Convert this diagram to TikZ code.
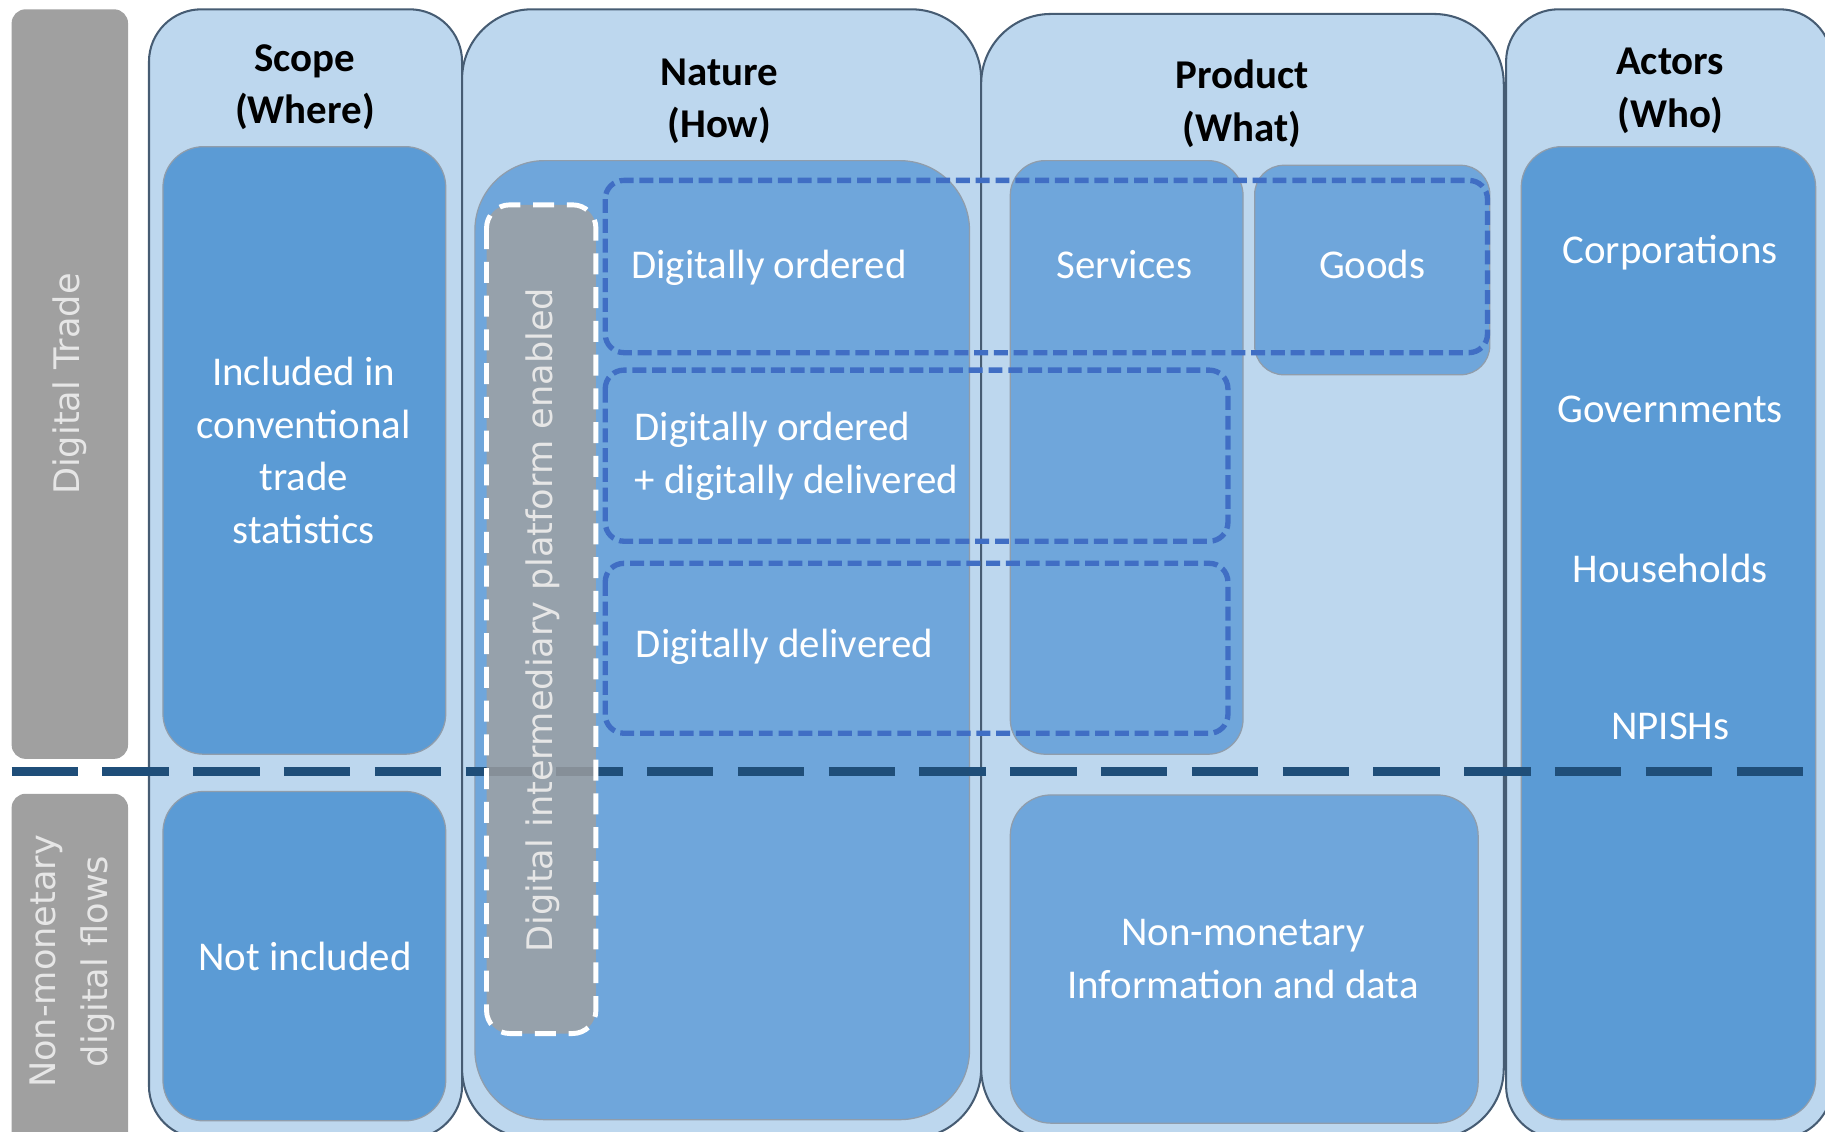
\documentclass[tikz,border=0pt]{standalone}
\usepackage{fontspec}
\setmainfont{Carlito}
\newfontfamily\sidefont{DejaVu Sans}
\definecolor{panel}{RGB}{189,215,238}
\definecolor{deep}{RGB}{91,155,213}
\definecolor{mid}{RGB}{111,166,219}
\definecolor{bar}{RGB}{160,160,160}
\definecolor{sidetext}{RGB}{230,230,230}
\definecolor{zoneblue}{RGB}{64,110,196}
\definecolor{navy}{RGB}{31,78,121}
\definecolor{edge}{RGB}{70,92,115}
\begin{document}
\begin{tikzpicture}[x=0.1mm,y=-0.1mm,line join=round,font=\fontsize{10}{12.8}\selectfont,
	pnl/.style={fill=panel,draw=edge,line width=0.5pt,rounded corners=4.5mm},
	box/.style={fill=#1,draw=edge!60,line width=0.3pt,rounded corners=3.5mm},
	zone/.style={draw=zoneblue,line width=1.3pt,dash pattern=on 1.2mm off 0.5mm,rounded corners=1.6mm},
	hdr/.style={align=center,font=\fontsize{10}{12.8}\selectfont\bfseries},
	lbl/.style={align=center,text=white},
	side/.style={rotate=90,align=center,text=sidetext,font=\sidefont\fontsize{8.6}{12.8}\selectfont}]
	\clip (0,0) rectangle (1568,972);
	% left bars
	\fill[bar,rounded corners=1.2mm] (10,8) rectangle (110,652);
	\fill[bar,rounded corners=1.2mm] (10,682) rectangle (110,990);
	% columns
	\draw[pnl] (128,8) rectangle (397,978);
	\draw[pnl,rounded corners=6mm] (397,8) rectangle (843,978);
	\draw[pnl,rounded corners=6mm] (843,12) rectangle (1292,978);
	\draw[pnl] (1294,8) rectangle (1574,978);
	% inner boxes
	\draw[box=deep] (140,126) rectangle (383,648);
	\draw[box=deep] (140,680) rectangle (383,963);
	\draw[box=mid,rounded corners=6mm] (408,138) rectangle (833,962);
	\draw[box=mid,rounded corners=3mm] (868,138) rectangle (1068,648);
	\draw[box=mid,rounded corners=2.5mm] (1078,142) rectangle (1280,322);
	\draw[box=mid] (868,683) rectangle (1270,965);
	\draw[box=deep] (1307,126) rectangle (1560,962);
	% dashed zones
	\draw[zone] (520,155) rectangle (1278,303);
	\draw[zone] (520,318) rectangle (1055,465);
	\draw[zone] (520,484) rectangle (1055,630);
	% divider
	\coordinate (divl) at (10,663);
	\coordinate (divr) at (1568,663);
	\draw[navy,line width=2.1pt,dash pattern=on 5.7mm off 2.1mm] (divl) -- (divr);
	% platform box
	\draw[white,fill=bar,fill opacity=0.8,line width=1.2pt,dash pattern=on 1.8mm off 1.1mm,rounded corners=2mm] (418,176) rectangle (512,888);
	% texts
	\node[side] (trade) at (60,330) {Digital Trade};
	\node[side] (flows) at (62,826) {Non-monetary\\digital flows};
	\node[side] (platform) at (466,533) {Digital intermediary platform enabled};
	\node[hdr] (scope) at (262,75) {Scope\\(Where)};
	\node[hdr] (nature) at (618,87) {Nature\\(How)};
	\node[hdr] (product) at (1067,89) {Product\\(What)};
	\node[hdr] (actors) at (1435,78) {Actors\\(Who)};
	\node[lbl] (incl) at (261,387) {Included in\\conventional\\trade\\statistics};
	\node[lbl] (notincl) at (262,822) {Not included};
	\node[lbl,anchor=west] (ord) at (530,230) {Digitally ordered};
	\node[lbl,anchor=west,align=left] (orddel) at (533,392) {Digitally ordered\\+ digitally delivered};
	\node[lbl,anchor=west] (del) at (534,556) {Digitally delivered};
	\node[lbl] (serv) at (966,227) {Services};
	\node[lbl] (goods) at (1179,227) {Goods};
	\node[lbl] (corp) at (1435,217) {Corporations};
	\node[lbl] (gov) at (1435,352) {Governments};
	\node[lbl] (hh) at (1435,488) {Households};
	\node[lbl] (npish) at (1435,624) {NPISHs};
	\node[lbl] (info) at (1068,824) {Non-monetary\\Information and data};
\end{tikzpicture}
\end{document}
